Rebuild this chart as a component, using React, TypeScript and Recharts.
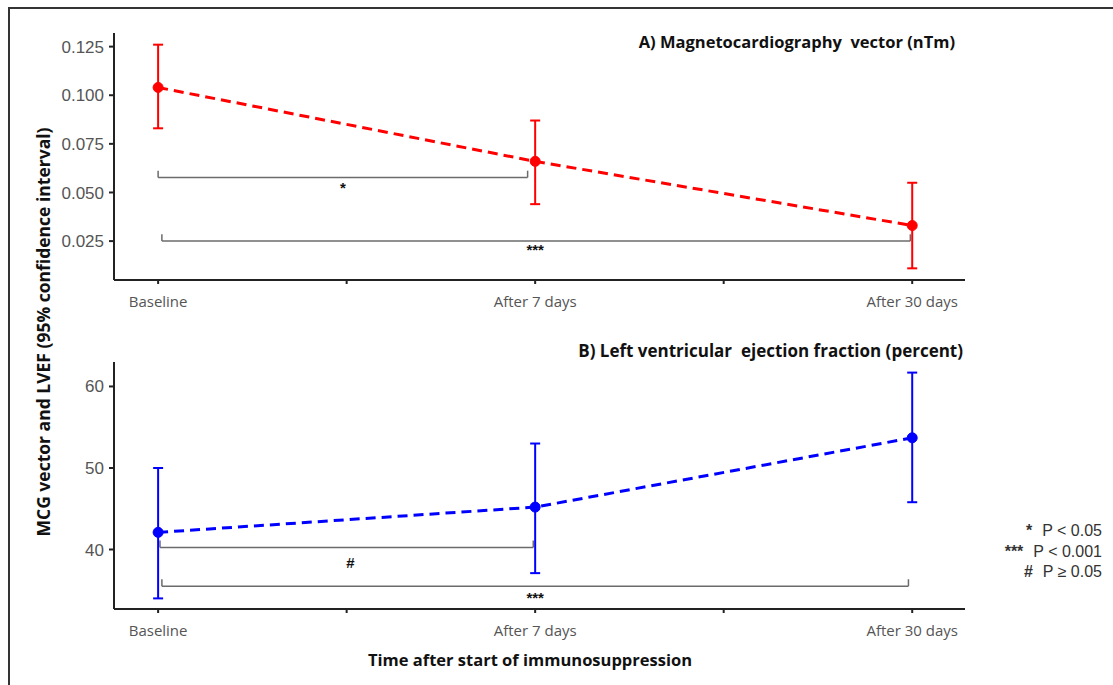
import React from 'react';
import {
  LineChart,
  Line,
  XAxis,
  YAxis,
  ErrorBar,
  ReferenceLine,
  ReferenceDot,
} from 'recharts';

// time points on the x axis
const categories = ['Baseline', 'After 7 days', 'After 30 days'];
const xTicks = [1, 1.5, 2, 2.5, 3];

// A) magnetocardiography vector (nTm): mean and 95% CI
const mcgMean = [0.104, 0.066, 0.033];
const mcgLow = [0.083, 0.044, 0.011];
const mcgHigh = [0.126, 0.087, 0.055];
const mcgTicks = [0.025, 0.05, 0.075, 0.1, 0.125];

// B) left ventricular ejection fraction (percent): mean and 95% CI
const lvefMean = [42.1, 45.2, 53.7];
const lvefLow = [34.0, 37.1, 45.8];
const lvefHigh = [50.0, 53.0, 61.7];
const lvefTicks = [40, 50, 60];

// significance brackets: from, to, height, label position and label
const mcgBrackets = [
  { from: 1.0, to: 1.98, y: 0.0577, labelX: 1.49, labelY: 0.0525, label: '*' },
  { from: 1.01, to: 2.995, y: 0.025, labelX: 2.0, labelY: 0.0205, label: '***' },
];
const lvefBrackets = [
  { from: 1.005, to: 1.995, y: 40.25, labelX: 1.51, labelY: 38.4, label: '#' },
  { from: 1.01, to: 2.99, y: 35.5, labelX: 2.0, labelY: 34.1, label: '***' },
];

const legendRows = [
  { sym: '*', text: 'P < 0.05' },
  { sym: '***', text: 'P < 0.001' },
  { sym: '#', text: 'P \u2265 0.05' },
];

const buildRows = (mean: number[], low: number[], high: number[]) =>
  categories.map((name, i) => ({
    x: i + 1,
    name,
    mean: mean[i],
    err: [mean[i] - low[i], high[i] - mean[i]],
  }));

const mcgData = buildRows(mcgMean, mcgLow, mcgHigh);
const lvefData = buildRows(lvefMean, lvefLow, lvefHigh);

const tickName = (v: number) => {
  const i = Math.round(v) - 1;
  return Number.isInteger(v) && categories[i] ? categories[i] : '';
};

const AXIS = '#222';
const BRACKET = '#6b6b6b';

const labelText = (label: string) => (props: any) => {
  const { viewBox } = props;
  return (
    <text
      x={viewBox.x + viewBox.width / 2}
      y={viewBox.y + viewBox.height / 2}
      textAnchor="middle"
      dominantBaseline="central"
      fontFamily="Liberation Sans"
      fontWeight={700}
      fontSize={15}
      fill="#111"
    >
      {label}
    </text>
  );
};

function Brackets(list: typeof mcgBrackets, tickH: number) {
  return list.flatMap((b, i) => [
    <ReferenceLine
      key={`h${i}`}
      segment={[{ x: b.from, y: b.y }, { x: b.to, y: b.y }]}
      stroke={BRACKET}
      strokeWidth={1.5}
      ifOverflow="visible"
    />,
    <ReferenceLine
      key={`l${i}`}
      segment={[{ x: b.from, y: b.y }, { x: b.from, y: b.y + tickH }]}
      stroke={BRACKET}
      strokeWidth={1.5}
      ifOverflow="visible"
    />,
    <ReferenceLine
      key={`r${i}`}
      segment={[{ x: b.to, y: b.y }, { x: b.to, y: b.y + tickH }]}
      stroke={BRACKET}
      strokeWidth={1.5}
      ifOverflow="visible"
    />,
    <ReferenceDot
      key={`t${i}`}
      x={b.labelX}
      y={b.labelY}
      r={0}
      fill="none"
      stroke="none"
      ifOverflow="visible"
      label={labelText(b.label)}
    />,
  ]);
}

function Panel(props: {
  data: typeof mcgData;
  color: string;
  domain: [number, number];
  ticks: number[];
  fmt: (v: number) => string;
  brackets: typeof mcgBrackets;
  tickH: number;
}) {
  const { data, color, domain, ticks, fmt, brackets, tickH } = props;
  return (
    <LineChart
      width={1000}
      height={317}
      data={data}
      margin={{ top: 33, right: 35, bottom: 7, left: 54 }}
    >
      <XAxis
        dataKey="x"
        type="number"
        domain={[0.883, 3.14]}
        ticks={xTicks}
        tickFormatter={tickName}
        allowDataOverflow
        height={30}
        stroke={AXIS}
        strokeWidth={2}
        tickSize={4}
        tickMargin={12}
        tick={{ fontSize: 15, fill: '#555', fontFamily: 'Open Sans' }}
      />
      <YAxis
        type="number"
        domain={domain}
        ticks={ticks}
        tickFormatter={fmt}
        allowDataOverflow
        width={60}
        stroke={AXIS}
        strokeWidth={2}
        tickSize={5}
        tickMargin={5}
        tick={{ fontSize: 17, fill: '#555', fontFamily: 'Liberation Sans' }}
      />
      {Brackets(brackets, tickH)}
      <Line
        type="linear"
        dataKey="mean"
        stroke={color}
        strokeWidth={3}
        strokeDasharray="10 6"
        dot={{ r: 5, fill: color, stroke: color, strokeWidth: 1, strokeDasharray: '' }}
        activeDot={false}
        isAnimationActive={false}
      >
        <ErrorBar dataKey="err" width={5} stroke={color} strokeWidth={2} direction="y" />
      </Line>
    </LineChart>
  );
}

const titleStyle: React.CSSProperties = {
  position: 'absolute',
  fontFamily: 'Open Sans',
  fontWeight: 700,
  fontSize: 17,
  color: '#111',
  whiteSpace: 'pre',
  textAlign: 'right',
};

export default function App() {
  return (
    <div
      style={{
        position: 'absolute',
        left: 0,
        top: 0,
        width: 1113,
        height: 685,
        overflow: 'hidden',
        background: '#fff',
      }}
    >
      <div
        style={{
          position: 'absolute',
          left: 8,
          top: 7,
          width: 1200,
          height: 800,
          borderTop: '2px solid #333',
          borderLeft: '2px solid #333',
        }}
      />
      <div style={{ position: 'absolute', left: 0, top: 0 }}>
        <Panel
          data={mcgData}
          color="#ff0000"
          domain={[0.005, 0.132]}
          ticks={mcgTicks}
          fmt={(v) => v.toFixed(3)}
          brackets={mcgBrackets}
          tickH={0.0035}
        />
      </div>
      <div style={{ position: 'absolute', left: 0, top: 329 }}>
        <Panel
          data={lvefData}
          color="#0000ff"
          domain={[32.7, 63]}
          ticks={lvefTicks}
          fmt={(v) => String(v)}
          brackets={lvefBrackets}
          tickH={0.85}
        />
      </div>
      <div style={{ ...titleStyle, fontSize: 16.5, right: 1113 - 955, top: 30 }}>
        {'A) Magnetocardiography  vector (nTm)'}
      </div>
      <div style={{ ...titleStyle, right: 1113 - 963, top: 339 }}>
        {'B) Left ventricular  ejection fraction (percent)'}
      </div>
      <div
        style={{
          position: 'absolute',
          left: 43 - 250,
          top: 332 - 12,
          width: 500,
          height: 24,
          lineHeight: '24px',
          textAlign: 'center',
          transform: 'rotate(-90deg)',
          fontFamily: 'Open Sans',
          fontWeight: 700,
          fontSize: 17.5,
          color: '#111',
        }}
      >
        MCG vector and LVEF (95% confidence interval)
      </div>
      <div
        style={{
          position: 'absolute',
          left: 530 - 250,
          top: 648,
          width: 500,
          textAlign: 'center',
          fontFamily: 'Open Sans',
          fontWeight: 700,
          fontSize: 16.5,
          color: '#111',
        }}
      >
        Time after start of immunosuppression
      </div>
      <div
        style={{
          position: 'absolute',
          right: 1113 - 1102,
          top: 521,
          fontFamily: 'Liberation Sans',
          fontSize: 16,
          color: '#333',
          lineHeight: '20.5px',
          textAlign: 'right',
        }}
      >
        {legendRows.map((r) => (
          <div key={r.text}>
            <span style={{ fontWeight: 700 }}>{r.sym}</span>
            <span style={{ marginLeft: 10 }}>{r.text}</span>
          </div>
        ))}
      </div>
    </div>
  );
}
